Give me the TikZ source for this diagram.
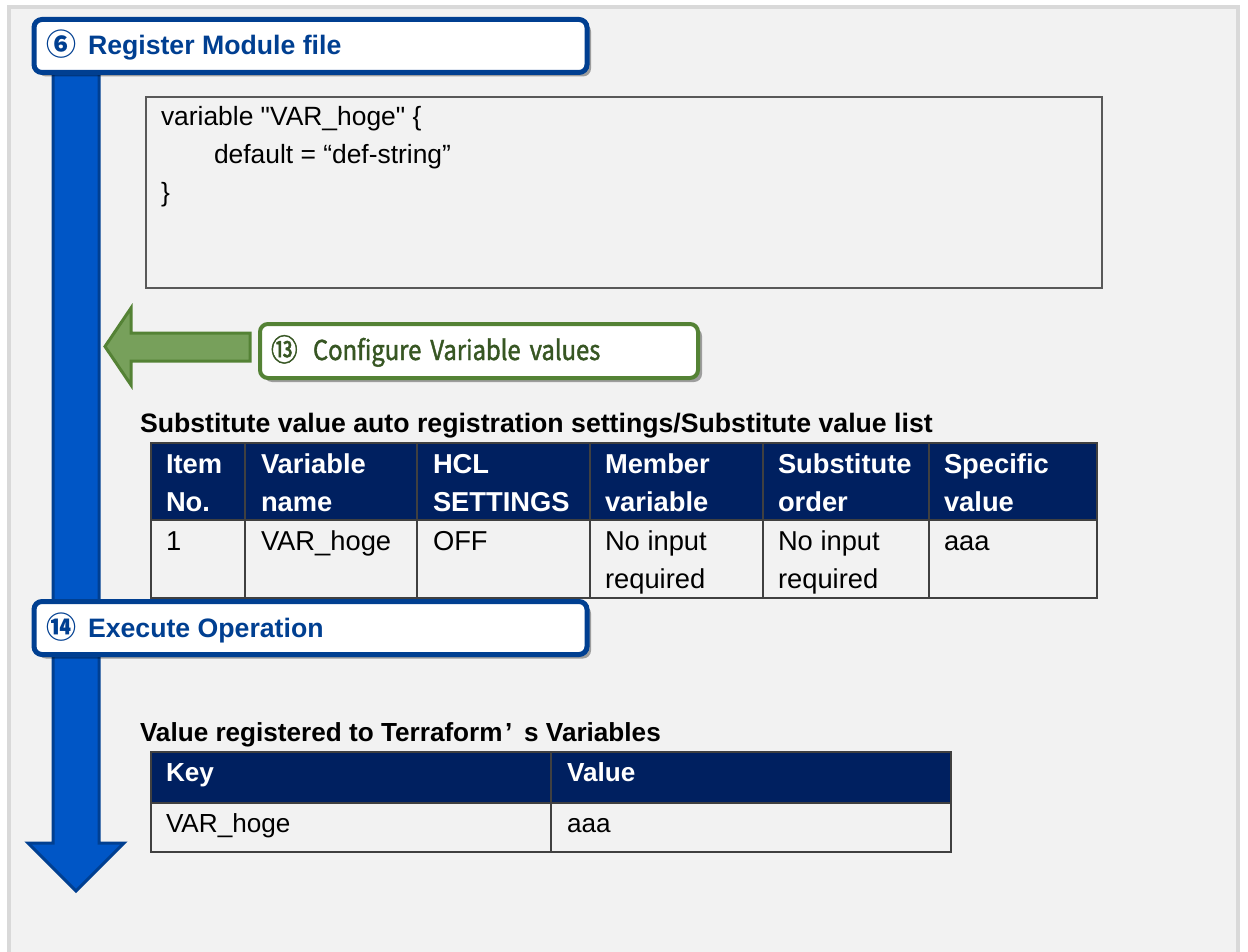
\documentclass[tikz,border=0pt]{standalone}
\usepackage{fontspec}
\setmainfont{Liberation Sans}
\newfontfamily\codefont{Liberation Sans}
\newfontfamily\cjk{Noto Sans CJK JP}
\newfontfamily\cjkn[FakeStretch=0.87,FakeBold=1.5]{Noto Sans CJK JP}
\usetikzlibrary{shadows}
\definecolor{panelfill}{HTML}{F2F2F2}
\definecolor{panelline}{HTML}{D9D9D9}
\definecolor{bluefill}{HTML}{0056C6}
\definecolor{blueline}{HTML}{003F91}
\definecolor{navy}{HTML}{002060}
\definecolor{gridline}{HTML}{404040}
\definecolor{greenline}{HTML}{548235}
\definecolor{greenfill}{HTML}{77A05B}
\definecolor{greentext}{HTML}{375623}
\definecolor{codeline}{HTML}{595959}
\begin{document}
\begin{tikzpicture}[x=0.75pt,y=-0.75pt,
  every node/.style={inner sep=0pt, outer sep=0pt},
  txt/.style={anchor=base west, inner sep=0pt, font=\fontsize{20}{24}\selectfont},
  codetxt/.style={anchor=base west, inner sep=0pt, font=\fontsize{19.8}{24}\selectfont\codefont},
  tabtxt/.style={anchor=base west, inner sep=0pt, font=\fontsize{20.5}{24}\selectfont},
  tabhead/.style={tabtxt, text=white, font=\fontsize{20.5}{24}\selectfont\bfseries},
  hdrtxt/.style={anchor=base west, text=blueline, font=\fontsize{20}{24}\selectfont\bfseries},
  hdrnum/.style={anchor=base west, text=blueline, font=\fontsize{22.5}{24}\selectfont\cjk\bfseries},
  hdrbox/.style={draw=blueline, line width=3.75pt, fill=white, rounded corners=6pt,
    minimum width=414.75pt, minimum height=39.75pt,
    drop shadow={shadow xshift=3pt, shadow yshift=-3pt, opacity=0.35, fill=black}},
  greenbox/.style={draw=greenline, line width=3pt, fill=white, rounded corners=6pt,
    minimum width=328.5pt, minimum height=40.5pt,
    drop shadow={shadow xshift=3pt, shadow yshift=-3pt, opacity=0.35, fill=black}},
  grid/.style={draw=gridline, line width=1pt},
  codebox/.style={draw=codeline, line width=1.1pt, fill=panelfill,
    minimum width=717pt, minimum height=143.25pt}
]
\useasboundingbox (0,0) rectangle (1248,952);
\clip (0,0) rectangle (1248,952);
\fill[white] (0,0) rectangle (1248,952);
% panel
\draw[panelline, fill=panelfill, line width=3pt] (9,7.5) rectangle (1238,975);

% blue flow arrow
\draw[blueline, fill=bluefill, line width=2.25pt, line join=miter]
  (53,60) -- (99,60) -- (99,843) -- (124,843) -- (76,891) -- (28,843) -- (53,843) -- cycle;

% header box 1
\node[hdrbox] (h1) at (310.5,46) {};
\node[hdrnum] (h1num) at (46,56) {⑥};
\node[hdrtxt] (h1txt) at (88,55) {Register Module file};

% code box
\node[codebox] (code) at (624,192.5) {};
\node[codetxt] (code1) at (161,126) {variable "VAR\_hoge" \{};
\node[codetxt] (code2) at (214,164) {default = “def-string”};
\node[codetxt] (code3) at (161,202) {\}};

% green arrow
\draw[greenline, fill=greenfill, line width=2.25pt, line join=miter]
  (250,333) -- (131,333) -- (131,308) -- (105,346.5) -- (131,385) -- (131,361) -- (250,361) -- cycle;
\node[greenbox] (g1) at (479,351) {};
\node[anchor=base west, text=greentext, font=\fontsize{23}{24}\selectfont\cjkn] (g1num) at (271,361) {⑬};
\node[anchor=base west, text=greentext, font=\fontsize{20.5}{24}\selectfont\cjkn] (g1txt) at (313,360)
  {Configure\hspace{0.33em}Variable\hspace{0.33em}values};

% title 1
\node[txt, font=\fontsize{20}{24}\selectfont\bfseries] (t1) at (140,432)
  {Substitute value auto registration settings/Substitute value list};

% table 1
\fill[navy] (151,443) rectangle (1097,520);
\draw[grid] (151,443) rectangle (1097,598);
\draw[grid] (151,520) -- (1097,520);
\foreach \cx in {245,417,590,763,929} \draw[grid] (\cx,443) -- (\cx,598);
\node[tabhead] (a1) at (166,473) {Item};
\node[tabhead] (a2) at (166,511) {No.};
\node[tabhead] (b1) at (261,473) {Variable};
\node[tabhead] (b2) at (261,511) {name};
\node[tabhead] (c1) at (433,473) {HCL};
\node[tabhead] (c2) at (433,511) {SETTINGS};
\node[tabhead] (d1) at (605,473) {Member};
\node[tabhead] (d2) at (605,511) {variable};
\node[tabhead] (e1) at (778,473) {Substitute};
\node[tabhead] (e2) at (778,511) {order};
\node[tabhead] (f1) at (944,473) {Specific};
\node[tabhead] (f2) at (944,511) {value};
\node[tabtxt] (a3) at (166,550) {1};
\node[tabtxt] (b3) at (261,550) {VAR\_hoge};
\node[tabtxt] (c3) at (433,550) {OFF};
\node[tabtxt] (d3) at (605,550) {No input};
\node[tabtxt] (d4) at (605,588) {required};
\node[tabtxt] (e3) at (778,550) {No input};
\node[tabtxt] (e4) at (778,588) {required};
\node[tabtxt] (f3) at (944,550) {aaa};

% header box 2
\node[hdrbox] (h2) at (310.5,628) {};
\node[hdrnum] (h2num) at (46,638) {⑭};
\node[hdrtxt] (h2txt) at (88,637) {Execute Operation};

% title 2
\node[txt, font=\fontsize{19.6}{24}\selectfont\bfseries] (t2) at (140,741)
  {Value registered to Terraform\hspace{0.1em}’\hspace{0.45em}s Variables};

% table 2
\fill[navy] (151,752) rectangle (951,803);
\draw[grid] (151,752) rectangle (951,852);
\draw[grid] (151,803) -- (951,803);
\draw[grid] (551,752) -- (551,852);
\node[tabhead, font=\fontsize{19.6}{24}\selectfont\bfseries] (k1) at (166,781) {Key};
\node[tabhead, font=\fontsize{19.6}{24}\selectfont\bfseries] (v1) at (567,781) {Value};
\node[tabtxt, font=\fontsize{19.6}{24}\selectfont] (k2) at (166,832) {VAR\_hoge};
\node[tabtxt, font=\fontsize{19.6}{24}\selectfont] (v2) at (567,832) {aaa};
\end{tikzpicture}
\end{document}
